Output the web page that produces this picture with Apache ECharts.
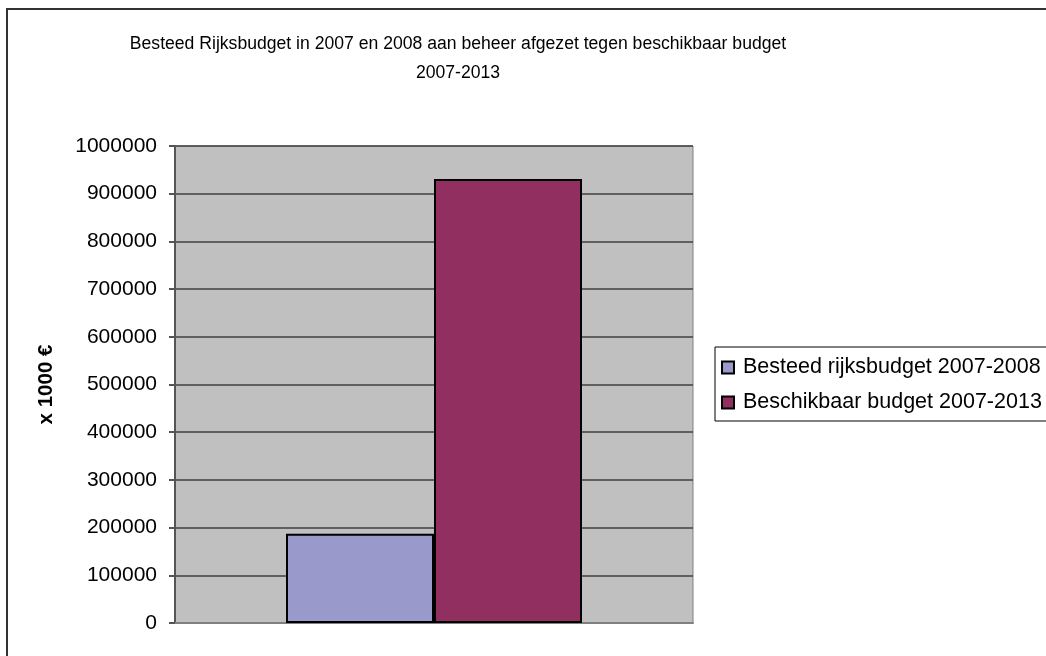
<!DOCTYPE html>
<html>
<head>
<meta charset="utf-8">
<script src="https://cdn.jsdelivr.net/npm/echarts@6/dist/echarts.min.js"></script>
<style>
html,body{margin:0;padding:0;background:#fff;}
#c{width:1046px;height:656px;}
</style>
</head>
<body>
<div id="c"></div>
<script>
const titleText = 'Besteed Rijksbudget in 2007 en 2008 aan beheer afgezet tegen beschikbaar budget\n2007-2013';
const categories = [''];
const seriesNames = ['Besteed rijksbudget 2007-2008', 'Beschikbaar budget 2007-2013'];
const besteed = [187000];
const beschikbaar = [931000];
const yAxisName = 'x 1000 €';

const FONT = '"Liberation Sans", Arial, sans-serif';
const chart = echarts.init(document.getElementById('c'), null, {renderer: 'canvas'});
chart.setOption({
  backgroundColor: '#fff',
  animation: false,
  graphic: [{
    type: 'rect', silent: true,
    shape: {x: 7, y: 9, width: 1100, height: 700},
    style: {fill: 'none', stroke: '#333', lineWidth: 2}
  }],
  title: {
    text: titleText,
    left: 453, top: 25, textAlign: 'center',
    textStyle: {fontFamily: FONT, fontSize: 17.6, fontWeight: 'normal', color: '#000', lineHeight: 29}
  },
  legend: {
    orient: 'vertical',
    left: 715, top: 347,
    padding: [8, 40, 6, 6],
    borderColor: '#000', borderWidth: 1,
    itemWidth: 12, itemHeight: 12, itemGap: 10,
    icon: 'rect',
    textStyle: {fontFamily: FONT, fontSize: 21.5, color: '#000', lineHeight: 25, padding: [0, 0, 0, 4]},
    data: seriesNames
  },
  grid: {
    left: 175, right: 353, top: 146, bottom: 33,
    show: true, backgroundColor: '#C0C0C0', borderColor: '#808080', borderWidth: 1
  },
  xAxis: {
    type: 'category', data: categories,
    axisLine: {lineStyle: {color: '#808080', width: 2}},
    axisTick: {show: false},
    axisLabel: {show: false}
  },
  yAxis: {
    type: 'value', min: 0, max: 1000000, interval: 100000,
    name: yAxisName, nameLocation: 'middle', nameGap: 118, nameRotate: 90,
    nameTextStyle: {fontFamily: FONT, fontSize: 20.5, fontWeight: 'bold', color: '#000'},
    axisLine: {show: true, lineStyle: {color: '#555', width: 2}},
    axisTick: {show: true, length: 6, lineStyle: {color: '#555', width: 2}},
    axisLabel: {fontFamily: FONT, fontSize: 21, color: '#000', margin: 18, formatter: v => String(v)},
    splitLine: {lineStyle: {color: '#404040', width: 1.5}}
  },
  series: [
    {name: seriesNames[0], type: 'bar', data: besteed, barWidth: 148, barGap: '0%',
     itemStyle: {color: '#9999CC', borderColor: '#000', borderWidth: 2}},
    {name: seriesNames[1], type: 'bar', data: beschikbaar, barWidth: 148, barGap: '0%',
     itemStyle: {color: '#913060', borderColor: '#000', borderWidth: 2}}
  ]
});
</script>
</body>
</html>
